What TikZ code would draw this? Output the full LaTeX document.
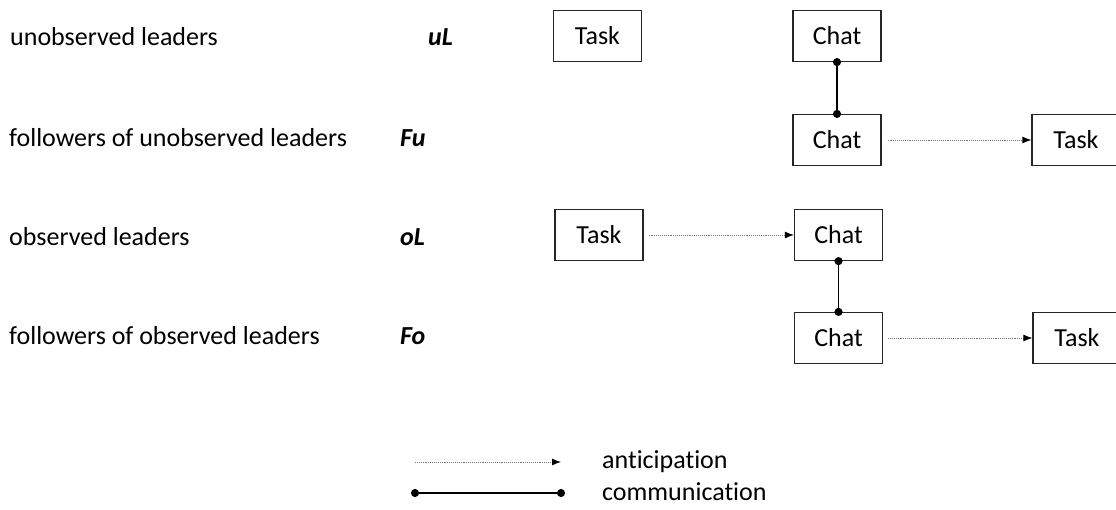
\documentclass[tikz,border=0pt]{standalone}
\usepackage{fontspec}
\setmainfont[Ligatures=CommonOff]{Carlito}
\usetikzlibrary{arrows.meta}
\begin{document}
\begin{tikzpicture}[x=1pt,y=-1pt,
  every node/.style={font=\fontsize{26}{30}\selectfont},
  box/.style={draw=black!85,line width=1.2pt,minimum width=88pt,minimum height=51pt,inner sep=0pt,anchor=center},
  lbl/.style={anchor=west,inner sep=0pt},
  abbr/.style={anchor=west,inner sep=0pt,font=\fontsize{26}{30}\selectfont\bfseries\itshape},
  antic/.style={draw=black!55,line width=0.9pt,densely dotted,-{Latex[length=9pt,width=7pt,black]}},
  comm/.style={draw=black,line width=1.8pt,{Circle[length=8pt,width=8pt]}-{Circle[length=8pt,width=8pt]},shorten <=-4pt,shorten >=-4pt}
]
\useasboundingbox (0,0) rectangle (1116,510);
% row labels
\node[lbl] (t1) at (10,37) {unobserved leaders};
\node[lbl] (t2) at (9,138) {followers of unobserved leaders};
\node[lbl] (t3) at (9,237) {observed leaders};
\node[lbl] (t4) at (9,336) {followers of observed leaders};
\node[abbr] (a1) at (428,37) {uL};
\node[abbr] (a2) at (400,138) {Fu};
\node[abbr] (a3) at (400,237) {oL};
\node[abbr] (a4) at (400,336) {Fo};
% boxes
\node[box] (task1) at (597.5,36) {Task};
\node[box] (chat1) at (837,36) {Chat};
\node[box] (chat2) at (837,140) {Chat};
\node[box] (task2) at (1076,140) {Task};
\node[box] (task3) at (599,235) {Task};
\node[box] (chat3) at (838.5,235) {Chat};
\node[box] (chat4) at (838.5,338) {Chat};
\node[box] (task4) at (1077,338) {Task};
% connectors
\draw[comm] (chat1.south) -- (chat2.north);
\draw[comm] (chat3.south) -- (chat4.north);
\draw[antic] ([xshift=6pt]chat2.east) -- (task2.west);
\draw[antic] ([xshift=5pt]task3.east) -- (chat3.west);
\draw[antic] ([xshift=5pt]chat4.east) -- (task4.west);
% legend
\coordinate (la1) at (415,462);
\coordinate (la2) at (561,462);
\coordinate (lc1) at (415,493);
\coordinate (lc2) at (561,493);
\draw[antic] (la1) -- (la2);
\draw[comm] (lc1) -- (lc2);
\node[lbl] (ant) at (602,462) {anticipation};
\node[lbl] (com) at (602,492) {communication};
\end{tikzpicture}
\end{document}
